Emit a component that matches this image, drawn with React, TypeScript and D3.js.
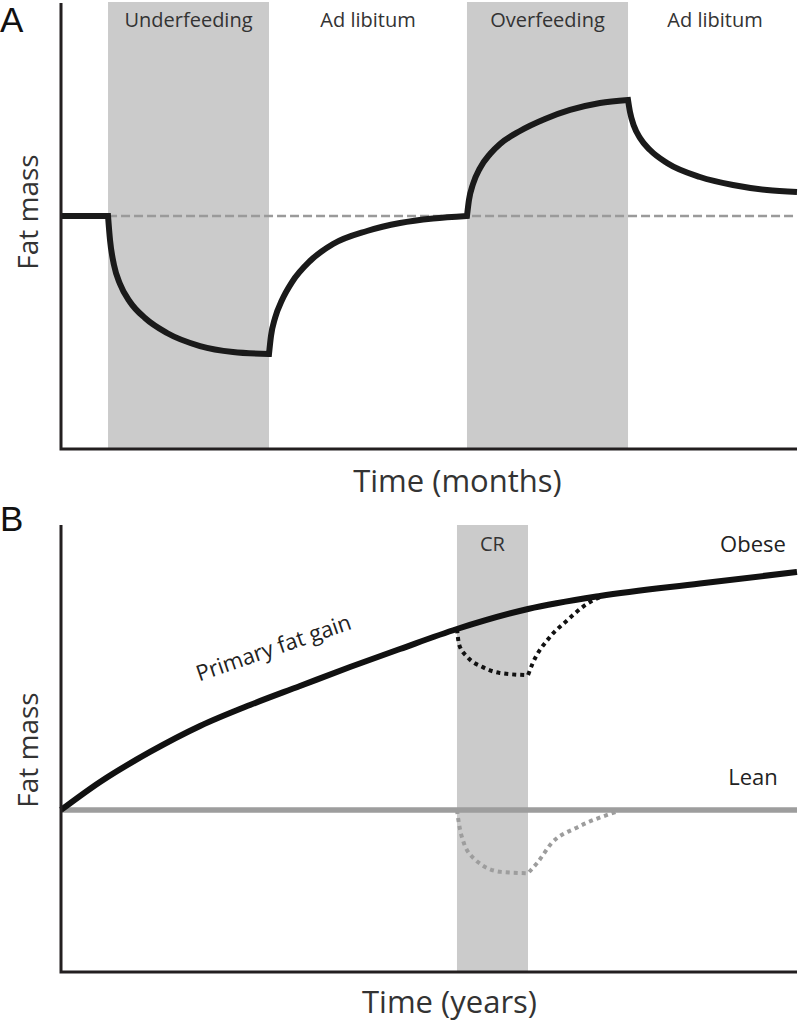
import React from "react";
import * as d3 from "d3";

// ---------- Panel A data (x: time units 0-100, y: fat mass units 0-100) ----------
const phaseLabelsA = ["Underfeeding", "Ad libitum", "Overfeeding", "Ad libitum"];
const phaseStartA = [6.39, 28.26, 55.16, 77.04];
const phaseEndA = [28.26, 55.16, 77.04, 100];
const phaseShadedA = [true, false, true, false];
const baselineA = 52.24;

const segA0: [number, number][] = [[0, 52.24], [6.39, 52.24]];
const segA1: [number, number][] = [
  [6.39, 52.24], [6.66, 46.86], [7.2, 41.26], [8.02, 37.0], [9.38, 32.96],
  [11.41, 29.37], [14.4, 26.01], [18.89, 23.09], [23.37, 21.75], [28.26, 21.3],
];
const segA2: [number, number][] = [
  [28.26, 21.3], [28.53, 25.34], [29.08, 29.37], [30.03, 33.41], [31.39, 37.44],
  [33.83, 42.15], [36.96, 45.96], [41.58, 48.88], [46.06, 50.67], [50.54, 51.68], [55.16, 52.24],
];
const segA3: [number, number][] = [
  [55.16, 52.24], [55.43, 55.83], [55.98, 59.42], [56.93, 63.0], [58.29, 66.14],
  [59.65, 68.39], [62.36, 71.3], [65.76, 73.99], [69.16, 76.01], [73.23, 77.58], [77.04, 78.25],
];
const segA4: [number, number][] = [
  [77.04, 78.25], [77.31, 75.56], [77.85, 72.42], [78.67, 69.73], [80.03, 67.04],
  [82.34, 64.13], [86.82, 60.99], [91.3, 59.19], [95.92, 58.07], [100, 57.62],
];

// ---------- Panel B data ----------
const crStartB = 53.8;
const crEndB = 63.45;
const leanB = 36.24;
const obeseB: [number, number][] = [
  [0, 36.24], [5.3, 42.51], [12.09, 49.22], [18.89, 55.03], [25.68, 59.73],
  [32.47, 63.98], [39.27, 68.23], [46.06, 72.26], [53.8, 76.73], [63.45, 81.21],
  [73.23, 84.12], [86.82, 86.91], [100, 89.49],
];
const obeseDipDown: [number, number][] = [
  [53.8, 76.73], [54.1, 73.2], [55.2, 70.5], [57.3, 68.2], [59.6, 66.9], [63.45, 66.4],
];
const obeseDipUp: [number, number][] = [
  [63.45, 66.4], [64.1, 69.1], [66.4, 74.9], [68.8, 78.7], [70.9, 81.7], [74.59, 84.79],
];
const leanDipDown: [number, number][] = [
  [53.8, 36.24], [54.1, 32.9], [54.6, 29.5], [56.3, 25.1], [59.8, 22.4], [63.45, 22.1],
];
const leanDipUp: [number, number][] = [
  [63.45, 22.1], [64.7, 24.4], [66.7, 28.9], [70.2, 32.4], [75.8, 36.0],
];

const FONT = "'Open Sans', sans-serif";

function joinSegments(line: d3.Line<[number, number]>, segs: [number, number][][]) {
  return segs
    .map((s, i) => {
      const d = line(s) || "";
      return i === 0 ? d : d.replace(/^M[^A-Za-z]*/, "");
    })
    .join("");
}

export default function App() {
  const x0 = 61, x1 = 797;
  const xA = d3.scaleLinear().domain([0, 100]).range([x0, x1]);
  const yA = d3.scaleLinear().domain([0, 100]).range([449, 3]);
  const xB = d3.scaleLinear().domain([0, 100]).range([x0, x1]);
  const yB = d3.scaleLinear().domain([0, 100]).range([972, 525]);

  const lineA = d3.line<[number, number]>().x(d => xA(d[0])).y(d => yA(d[1])).curve(d3.curveMonotoneX);
  const lineB = d3.line<[number, number]>().x(d => xB(d[0])).y(d => yB(d[1])).curve(d3.curveMonotoneX);

  const pathA = joinSegments(lineA, [segA0, segA1, segA2, segA3, segA4]);
  const obesePath = lineB(obeseB) || "";
  const obeseDip = joinSegments(lineB, [obeseDipDown, obeseDipUp]);
  const leanDip = joinSegments(lineB, [leanDipDown, leanDipUp]);

  const axisColor = "#231f20";
  const textColor = "#333";

  return (
    <div style={{ position: "absolute", left: 0, top: 0 }}>
      <svg width={800} height={1025} style={{ display: "block" }}>
        <rect x={0} y={0} width={800} height={1025} fill="#fff" />
        {/* ---------- Panel A ---------- */}
        {phaseLabelsA.map((lab, i) =>
          phaseShadedA[i] ? (
            <rect
              key={"pa" + i}
              x={xA(phaseStartA[i])}
              y={2}
              width={xA(phaseEndA[i]) - xA(phaseStartA[i])}
              height={449 - 2}
              fill="#cbcbcb"
            />
          ) : null
        )}
        {phaseLabelsA.map((lab, i) => {
          const cx = i === 3 ? 715 : (xA(phaseStartA[i]) + xA(phaseEndA[i])) / 2;
          return (
            <text key={"pl" + i} x={cx} y={27} textAnchor="middle" fontFamily={FONT} fontSize={20} fill={textColor}>
              {lab}
            </text>
          );
        })}
        <line
          x1={xA(phaseStartA[0])} x2={xA(100)} y1={yA(baselineA)} y2={yA(baselineA)}
          stroke="#9a9a9a" strokeWidth={2.5} strokeDasharray="9,4"
        />
        <path d={pathA} fill="none" stroke="#1a1a1a" strokeWidth={6} strokeLinejoin="miter" />
        <path d={`M${x0},3V449H${x1}`} fill="none" stroke={axisColor} strokeWidth={3} />
        <text x={0} y={32} fontFamily="'Liberation Sans', Arial, sans-serif" fontSize={35} fill="#111">A</text>
        <text
          transform={`translate(38,212) rotate(-90)`} textAnchor="middle"
          fontFamily={FONT} fontSize={28} fill={textColor}
        >Fat mass</text>
        <text x={457.5} y={492} textAnchor="middle" fontFamily={FONT} fontSize={31} fill={textColor}>Time (months)</text>

        {/* ---------- Panel B ---------- */}
        <rect x={xB(crStartB)} y={525} width={xB(crEndB) - xB(crStartB)} height={972 - 525} fill="#cbcbcb" />
        <text x={(xB(crStartB) + xB(crEndB)) / 2} y={551} textAnchor="middle" fontFamily={FONT} fontSize={20} fill={textColor}>CR</text>
        <line x1={xB(0)} x2={xB(100)} y1={yB(leanB)} y2={yB(leanB)} stroke="#9d9d9d" strokeWidth={5.5} />
        <path d={leanDip} fill="none" stroke="#9d9d9d" strokeWidth={4} strokeDasharray="4,4" />
        <path d={obesePath} fill="none" stroke="#111" strokeWidth={6} />
        <path d={obeseDip} fill="none" stroke="#111" strokeWidth={4} strokeDasharray="4,4" />
        <text x={753} y={552} textAnchor="middle" fontFamily={FONT} fontSize={22} fill="#222">Obese</text>
        <text x={753} y={785} textAnchor="middle" fontFamily={FONT} fontSize={22} fill="#222">Lean</text>
        <text
          transform={`translate(276,655) rotate(-19)`} textAnchor="middle"
          fontFamily={FONT} fontSize={22} fill="#222"
        >Primary fat gain</text>
        <path d={`M${x0},525V972H${x1}`} fill="none" stroke={axisColor} strokeWidth={3} />
        <text x={0} y={531} fontFamily="'Liberation Sans', Arial, sans-serif" fontSize={35} fill="#111">B</text>
        <text
          transform={`translate(38,750) rotate(-90)`} textAnchor="middle"
          fontFamily={FONT} fontSize={28} fill={textColor}
        >Fat mass</text>
        <text x={449.5} y={1013} textAnchor="middle" fontFamily={FONT} fontSize={31} fill={textColor}>Time (years)</text>
      </svg>
    </div>
  );
}
